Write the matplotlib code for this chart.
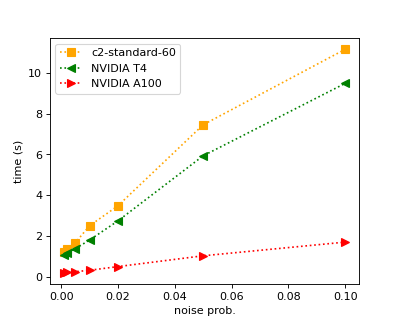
import matplotlib
matplotlib.use("Agg")
import matplotlib.pyplot as plt

# noise probabilities and timings
noise = [0.001, 0.002, 0.005, 0.01, 0.02, 0.05, 0.1]
c2_times = [1.22, 1.37, 1.67, 2.5, 3.48, 7.45, 11.15]
t4_times = [1.08, 1.17, 1.38, 1.8, 2.74, 5.93, 9.48]
a100_times = [0.2, 0.22, 0.25, 0.32, 0.5, 1.03, 1.7]

fig = plt.figure(figsize=(4.99, 3.99), dpi=80)
ax = fig.add_subplot(111)

ax.plot(noise, c2_times, ':s', color='orange', markersize=7.5, label='c2-standard-60')
ax.plot(noise, t4_times, ':<', color='green', markersize=7.5, label='NVIDIA T4')
ax.plot(noise, a100_times, ':>', color='red', markersize=7.5, label='NVIDIA A100')

ax.set_xlabel('noise prob.')
ax.set_ylabel('time (s)')
ax.legend(loc='upper left')

fig.savefig('out.png', dpi=80)
